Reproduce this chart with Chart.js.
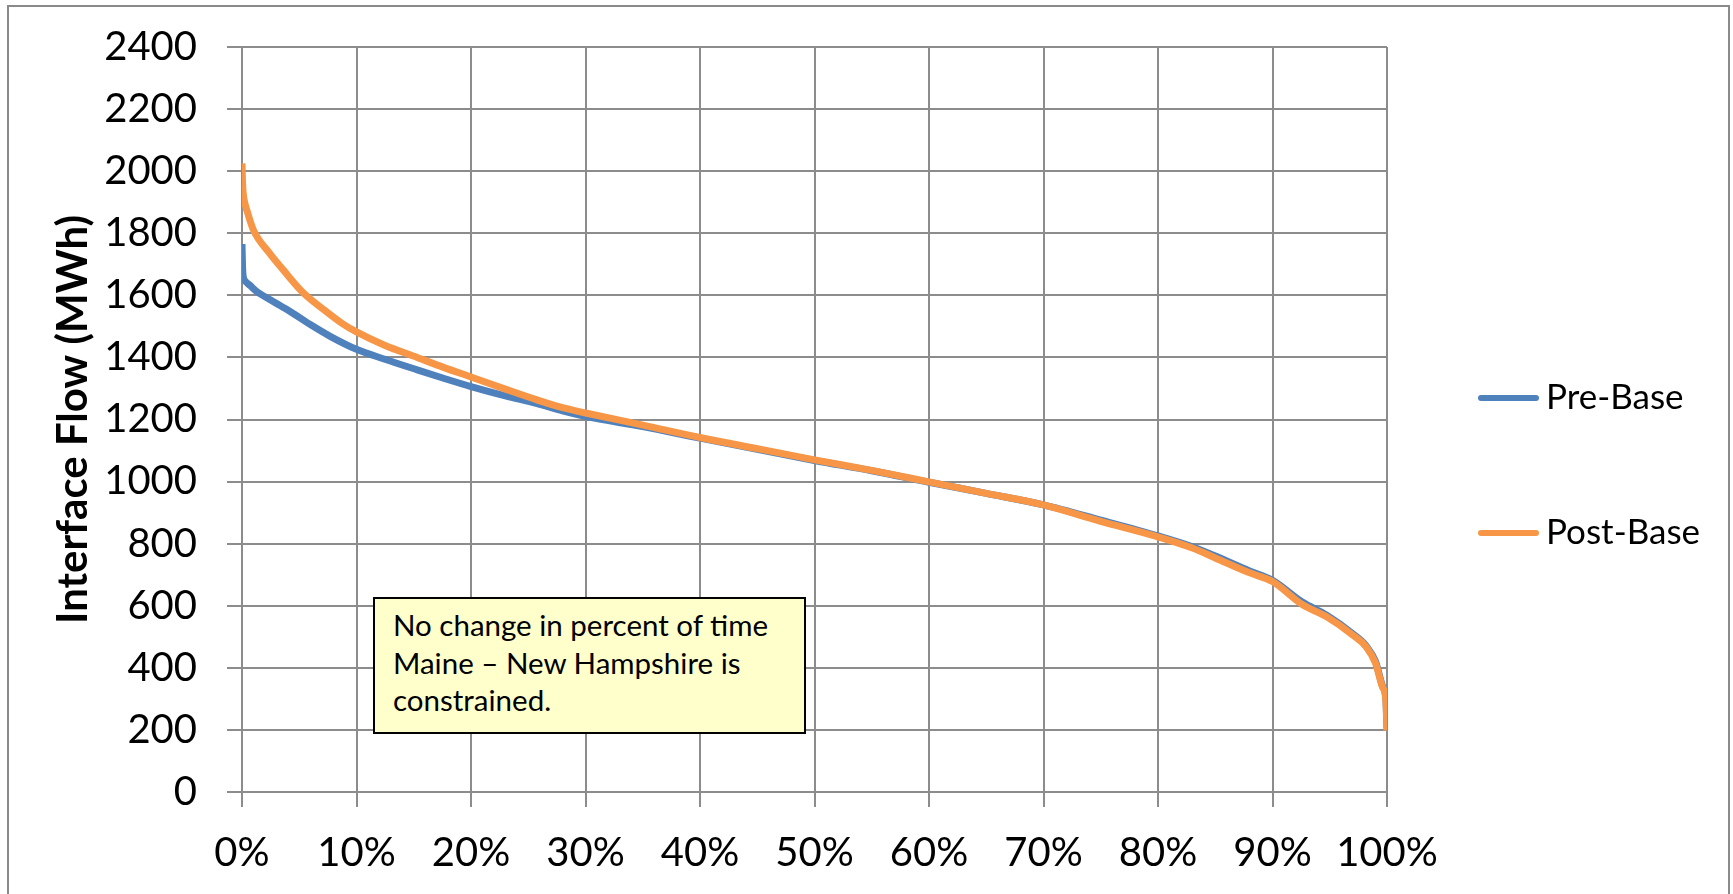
<!DOCTYPE html>
<html>
<head>
<meta charset="utf-8">
<script src="https://cdn.jsdelivr.net/npm/chart.js@4"></script>
<style>
  html, body { margin: 0; padding: 0; background: #fff; overflow: hidden; }
  #wrap { position: relative; width: 1733px; height: 894px; }
  #frame {
    position: absolute; left: 7px; top: 5px; width: 1723px; height: 920px;
    border: 2px solid #8a8a8a; box-sizing: border-box; pointer-events: none;
  }
  #note {
    position: absolute; left: 373px; top: 597px; width: 433px; height: 137px;
    box-sizing: border-box; border: 2px solid #000; background: #ffffcc;
    font-family: Lato, "Open Sans", sans-serif; font-size: 29.5px; line-height: 37.5px;
    color: #000; padding: 7px 0 0 18px;
  }
</style>
</head>
<body>
<div id="wrap">
  <canvas id="chart" width="1733" height="894"></canvas>
  <div id="frame"></div>
  <div id="note">No change in percent of time<br>Maine – New Hampshire is<br>constrained.</div>
</div>
<script>
// Flow duration curves: percent of hours vs. interface flow (MWh)
const prePct  = [0, 0.05, 0.1, 0.3, 0.7, 1.2, 2.5, 4.2, 6.0, 7.7, 10, 12.4, 15.3, 17.6, 20, 23, 25.7, 28, 30, 35, 40, 45, 50, 55, 60, 65, 70, 75, 80, 83, 85, 88, 90, 92.6, 94.7, 97, 98.2, 99, 99.6, 99.9, 100];
const preFlow = [1765, 1690, 1662, 1645, 1632, 1615, 1585, 1548, 1505, 1468, 1426, 1395, 1360, 1333, 1306, 1276, 1252, 1228, 1210, 1177, 1140, 1104, 1068, 1035, 998, 962, 925, 876, 825, 790, 760, 712, 682, 612, 570, 510, 470, 420, 342, 300, 205];

const postPct  = [0, 0.05, 0.1, 0.2, 0.5, 1.0, 2.4, 3.6, 5.3, 7.1, 8.8, 10, 12.4, 15.3, 17.6, 20, 23, 25.7, 28, 30, 35, 40, 45, 50, 55, 60, 65, 70, 75, 80, 83, 85, 88, 90, 92.6, 94.7, 97, 98.2, 99, 99.6, 99.9, 100];
const postFlow = [2025, 1960, 1930, 1905, 1865, 1810, 1736, 1682, 1610, 1555, 1508, 1482, 1440, 1400, 1368, 1337, 1298, 1264, 1238, 1221, 1182, 1142, 1106, 1070, 1036, 999, 962, 925, 872, 822, 786, 754, 706, 678, 604, 565, 506, 467, 415, 338, 296, 198];

const seriesNames  = ['Pre-Base', 'Post-Base'];
const seriesColors = ['#4f81bd', '#f79646'];

const xTickLabels = ['0%', '10%', '20%', '30%', '40%', '50%', '60%', '70%', '80%', '90%', '100%'];
const yTickValues = [0, 200, 400, 600, 800, 1000, 1200, 1400, 1600, 1800, 2000, 2200, 2400];
const yTitle = 'Interface Flow (MWh)';

const toPoints = (xs, ys) => xs.map((x, i) => ({ x: x, y: ys[i] }));

const FONT = 'Lato, "Open Sans", sans-serif';
const GRID = '#8c8c8c';

// Legend drawn at the right: a short thick line sample followed by the series name
const sideLegend = {
  id: 'sideLegend',
  afterDraw(chart) {
    const ctx = chart.ctx;
    const rows = [398, 533];
    ctx.save();
    chart.data.datasets.forEach((ds, i) => {
      const y = rows[i];
      ctx.strokeStyle = ds.borderColor;
      ctx.lineWidth = 6;
      ctx.lineCap = 'round';
      ctx.beginPath();
      ctx.moveTo(1481, y);
      ctx.lineTo(1536, y);
      ctx.stroke();
      ctx.fillStyle = '#000';
      ctx.font = '35px ' + FONT;
      ctx.textBaseline = 'middle';
      ctx.textAlign = 'left';
      ctx.fillText(ds.label, 1546, y);
    });
    ctx.restore();
  }
};

new Chart(document.getElementById('chart'), {
  type: 'line',
  data: {
    datasets: [
      {
        label: seriesNames[0],
        data: toPoints(prePct, preFlow),
        borderColor: seriesColors[0],
        backgroundColor: seriesColors[0],
        borderWidth: 7,
        pointRadius: 0,
        cubicInterpolationMode: 'monotone',
        borderJoinStyle: 'round',
        order: 1
      },
      {
        label: seriesNames[1],
        data: toPoints(postPct, postFlow),
        borderColor: seriesColors[1],
        backgroundColor: seriesColors[1],
        borderWidth: 7,
        pointRadius: 0,
        cubicInterpolationMode: 'monotone',
        borderJoinStyle: 'round',
        order: 0
      }
    ]
  },
  options: {
    responsive: false,
    animation: false,
    layout: { padding: { left: 0, top: 47, right: 346, bottom: 0 } },
    plugins: {
      legend: { display: false },
      tooltip: { enabled: false }
    },
    scales: {
      x: {
        type: 'linear',
        min: 0,
        max: 100,
        afterBuildTicks(scale) {
          scale.ticks = xTickLabels.map((_, i) => ({ value: i * 10 }));
        },
        afterFit(scale) {
          scale.height = 102;
          scale.paddingLeft = 0;
          scale.paddingRight = 0;
        },
        grid: { color: GRID, lineWidth: 2, tickLength: 15, tickColor: GRID },
        border: { color: GRID, width: 2 },
        ticks: {
          padding: 22,
          color: '#000',
          font: { family: FONT, size: 40 },
          maxRotation: 0,
          autoSkip: false,
          callback: (v, i) => xTickLabels[i]
        }
      },
      y: {
        min: 0,
        max: 2400,
        afterBuildTicks(scale) {
          scale.ticks = yTickValues.map(v => ({ value: v }));
        },
        afterFit(scale) {
          scale.width = 242;
          scale.paddingTop = 0;
          scale.paddingBottom = 0;
        },
        grid: { color: GRID, lineWidth: 2, tickLength: 15, tickColor: GRID },
        border: { color: GRID, width: 2 },
        ticks: {
          padding: 30,
          color: '#000',
          font: { family: FONT, size: 40 },
          autoSkip: false,
          callback: (v) => String(v)
        },
        title: {
          display: true,
          text: yTitle,
          color: '#000',
          font: { family: FONT, size: 42, weight: 'bold' },
          padding: { top: 48, bottom: 0 }
        }
      }
    }
  },
  plugins: [sideLegend]
});
</script>
</body>
</html>
